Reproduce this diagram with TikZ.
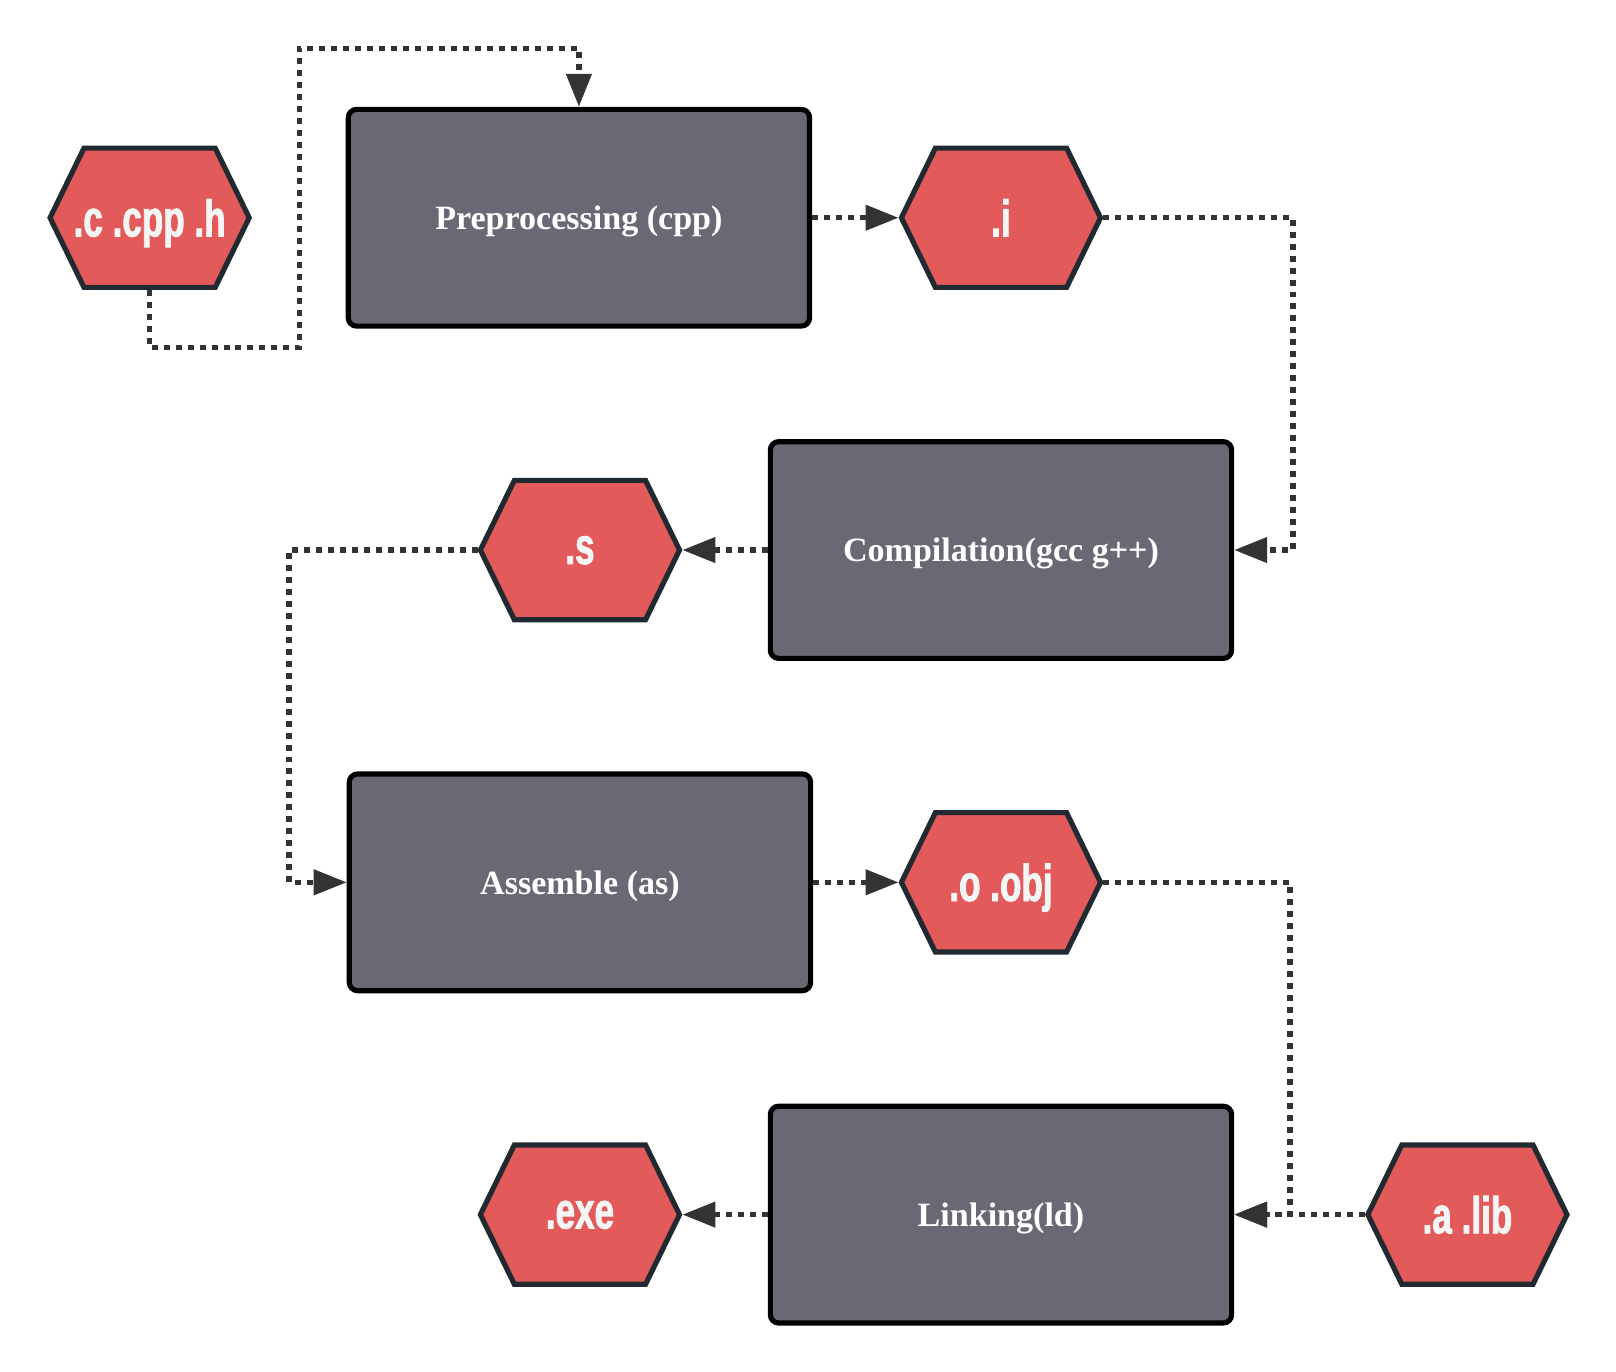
\documentclass[tikz,border=0pt]{standalone}
\usepackage{fontspec}
\setmainfont{Liberation Serif}
\newfontfamily\hexfont[FakeStretch=0.68, FakeBold=1.6]{Liberation Sans}
\usetikzlibrary{shapes.symbols, arrows.meta}
\definecolor{stagegray}{HTML}{6B6875}
\definecolor{hexred}{HTML}{E35A5A}
\definecolor{hexline}{HTML}{222A31}
\definecolor{flowgray}{HTML}{333333}
\tikzset{
  stage/.style={rectangle, rounded corners=4pt, draw=black, line width=2.5pt, fill=stagegray, text=white, minimum width=223.5pt, minimum height=105pt, text depth=0pt, font=\bfseries\fontsize{16.5}{18}\selectfont},
  file/.style={signal, signal to=west and east, signal pointer angle=128, draw=hexline, line width=2.5pt, fill=hexred, text=white!96!black, minimum width=96.5pt, minimum height=67.5pt, inner xsep=-20pt, inner ysep=0pt, text depth=0pt, font=\hexfont\bfseries\fontsize{25}{26}\selectfont},
  flow/.style={draw=flowgray, line width=2.5pt, dash pattern=on 2.9pt off 2.9pt, -{Triangle[length=16pt,width=12pt]}}
}

\begin{document}
\begin{tikzpicture}[x=0.5pt, y=-0.5pt]
    \useasboundingbox (0,0) rectangle (1566,1329);
    % stages
    \node [stage] (pre)  at (561,211)  {Preprocessing (cpp)};
    \node [stage] (comp) at (970,533)  {Compilation(gcc g++)};
    \node [stage] (asm)  at (562,855)  {Assemble (as)};
    \node [stage] (link) at (970,1177) {Linking(ld)};
    % files
    \node [file] (src) at (145,211)  {.c .cpp .h};
    \node [file] (ifile) at (970,211)  {.i};
    \node [file] (sfile) at (562,533)  {.s};
    \node [file] (ofile) at (970,855)  {.o .obj};
    \node [file] (exe) at (562,1177) {.exe};
    \node [file] (lib) at (1422,1177) {.a .lib};
    % bends
    \coordinate (b1) at (290,337);
    \coordinate (b2) at (290,47);
    \coordinate (b3) at (1253,211);
    \coordinate (b4) at (280,533);
    \coordinate (b5) at (1250,855);

    \draw [flow] (src.south) |- (b1) -- (b2) -| (pre.north);
    \draw [flow] (pre.east) -- (ifile.west);
    \draw [flow] (ifile.east) -- (b3) |- (comp.east);
    \draw [flow] (comp.west) -- (sfile.east);
    \draw [flow] (sfile.west) -- (b4) |- (asm.west);
    \draw [flow] (asm.east) -- (ofile.west);
    \draw [flow] (ofile.east) -- (b5) |- (link.east);
    \draw [flow] (lib.west) -- (link.east);
    \draw [flow] (link.west) -- (exe.east);
\end{tikzpicture}
\end{document}
